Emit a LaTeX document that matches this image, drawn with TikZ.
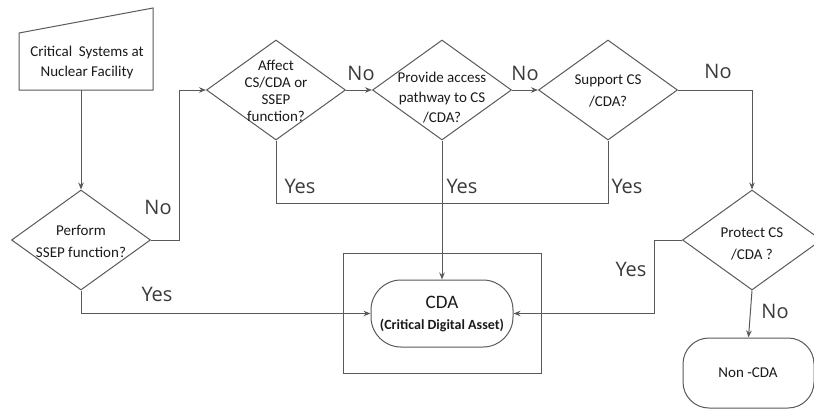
\documentclass[tikz,border=0pt]{standalone}
\usepackage{fontspec}
\setmainfont{Carlito}
\newfontfamily\labfont{Open Sans}
\usetikzlibrary{shapes.geometric,arrows.meta}
\definecolor{linec}{HTML}{595959}
\definecolor{txtc}{HTML}{1A1A1A}
\definecolor{labc}{HTML}{3A3A3A}
\begin{document}
\begin{tikzpicture}[x=1pt,y=-1pt,
  ln/.style={draw=linec, line width=1pt},
  arr/.style={ln, -{Stealth[length=7pt,width=5.5pt]}},
  dia/.style={diamond, draw=linec, line width=1pt, minimum width=139pt, minimum height=100pt, inner sep=0pt},
  txt/.style={align=center, text=txtc, font=\fontsize{15}{22}\selectfont, inner sep=0pt},
  lab/.style={text=labc, font=\labfont\fontsize{20}{20}\selectfont, inner sep=0pt},
  term/.style={draw=linec, line width=1pt, rectangle, inner sep=0pt},
]
\useasboundingbox (0,0) rectangle (814,410);

% start (manual input)
\draw[ln] (19,33) -- (153,8) -- (153,90) -- (19,90) -- cycle;
\node[txt, font=\fontsize{15}{20}\selectfont] (start) at (87,62) {Critical~ Systems at\\Nuclear Facility};
\coordinate (sb) at (81,90);

% diamonds
\node[dia] (d1) at (81,240) {};
\node[txt] (d1t) at (81,241) {Perform\\SSEP function?};
\node[dia] (d2) at (276,90) {};
\node[txt, font=\fontsize{15}{17}\selectfont] (d2t) at (276,91) {Affect\\CS/CDA or\\SSEP\\function?};
\node[txt, font=\fontsize{15}{20}\selectfont] (d3t) at (442,98) {Provide access\\pathway to CS\\/CDA?};
\node[dia] (d3) at (442,90) {};
\node[dia] (d4) at (608,90) {};
\node[txt] (d4t) at (608,91) {Support CS\\/CDA?};
\node[dia] (d5) at (752,240) {};
\node[txt] (d5t) at (752,244) {Protect CS\\/CDA ?};

% CDA
\node[term, minimum width=198pt, minimum height=120pt] (box) at (442,313) {};
\node[term, rounded corners=30pt, minimum width=142pt, minimum height=67pt] (cda) at (442,313.5) {};
\node[txt, font=\fontsize{19}{19}\selectfont] (cdat) at (442,302) {CDA};
\node[txt, font=\bfseries\fontsize{14}{14}\selectfont] (cdat2) at (442,325) {(Critical Digital Asset)};

% Non-CDA
\node[term, rounded corners=26pt, minimum width=131pt, minimum height=70pt] (non) at (748.5,373) {};
\node[txt] (nont) at (748,373) {Non -CDA};

% connectors
\draw[arr] (sb) -- (d1.north);
\draw[arr] (d1.east) -- ++(28,0) |- (d2.west);
\draw[arr] (d2.east) -- (d3.west);
\draw[arr] (d3.east) -- (d4.west);
\draw[arr] (d4.east) -| (d5.north);
\draw[ln] (d2.south) -- ++(0,63) -| (d4.south);
\draw[arr] (d3.south) -- (cda.north);
\draw[arr] (d1.south) |- (cda.west);
\draw[arr] (d5.west) -- ++(-28,0) |- (cda.east);
\draw[arr] (d5.south) -- (non.north);

% labels
\node[lab] (l1) at (158,207) {No};
\node[lab] (l2) at (157,294) {Yes};
\node[lab] (l3) at (361,73) {No};
\node[lab] (l4) at (525,73) {No};
\node[lab] (l5) at (718,71) {No};
\node[lab] (l6) at (300,186) {Yes};
\node[lab] (l7) at (462,186) {Yes};
\node[lab] (l8) at (627,186) {Yes};
\node[lab] (l9) at (631,269) {Yes};
\node[lab] (l10) at (775,311) {No};
\end{tikzpicture}
\end{document}
